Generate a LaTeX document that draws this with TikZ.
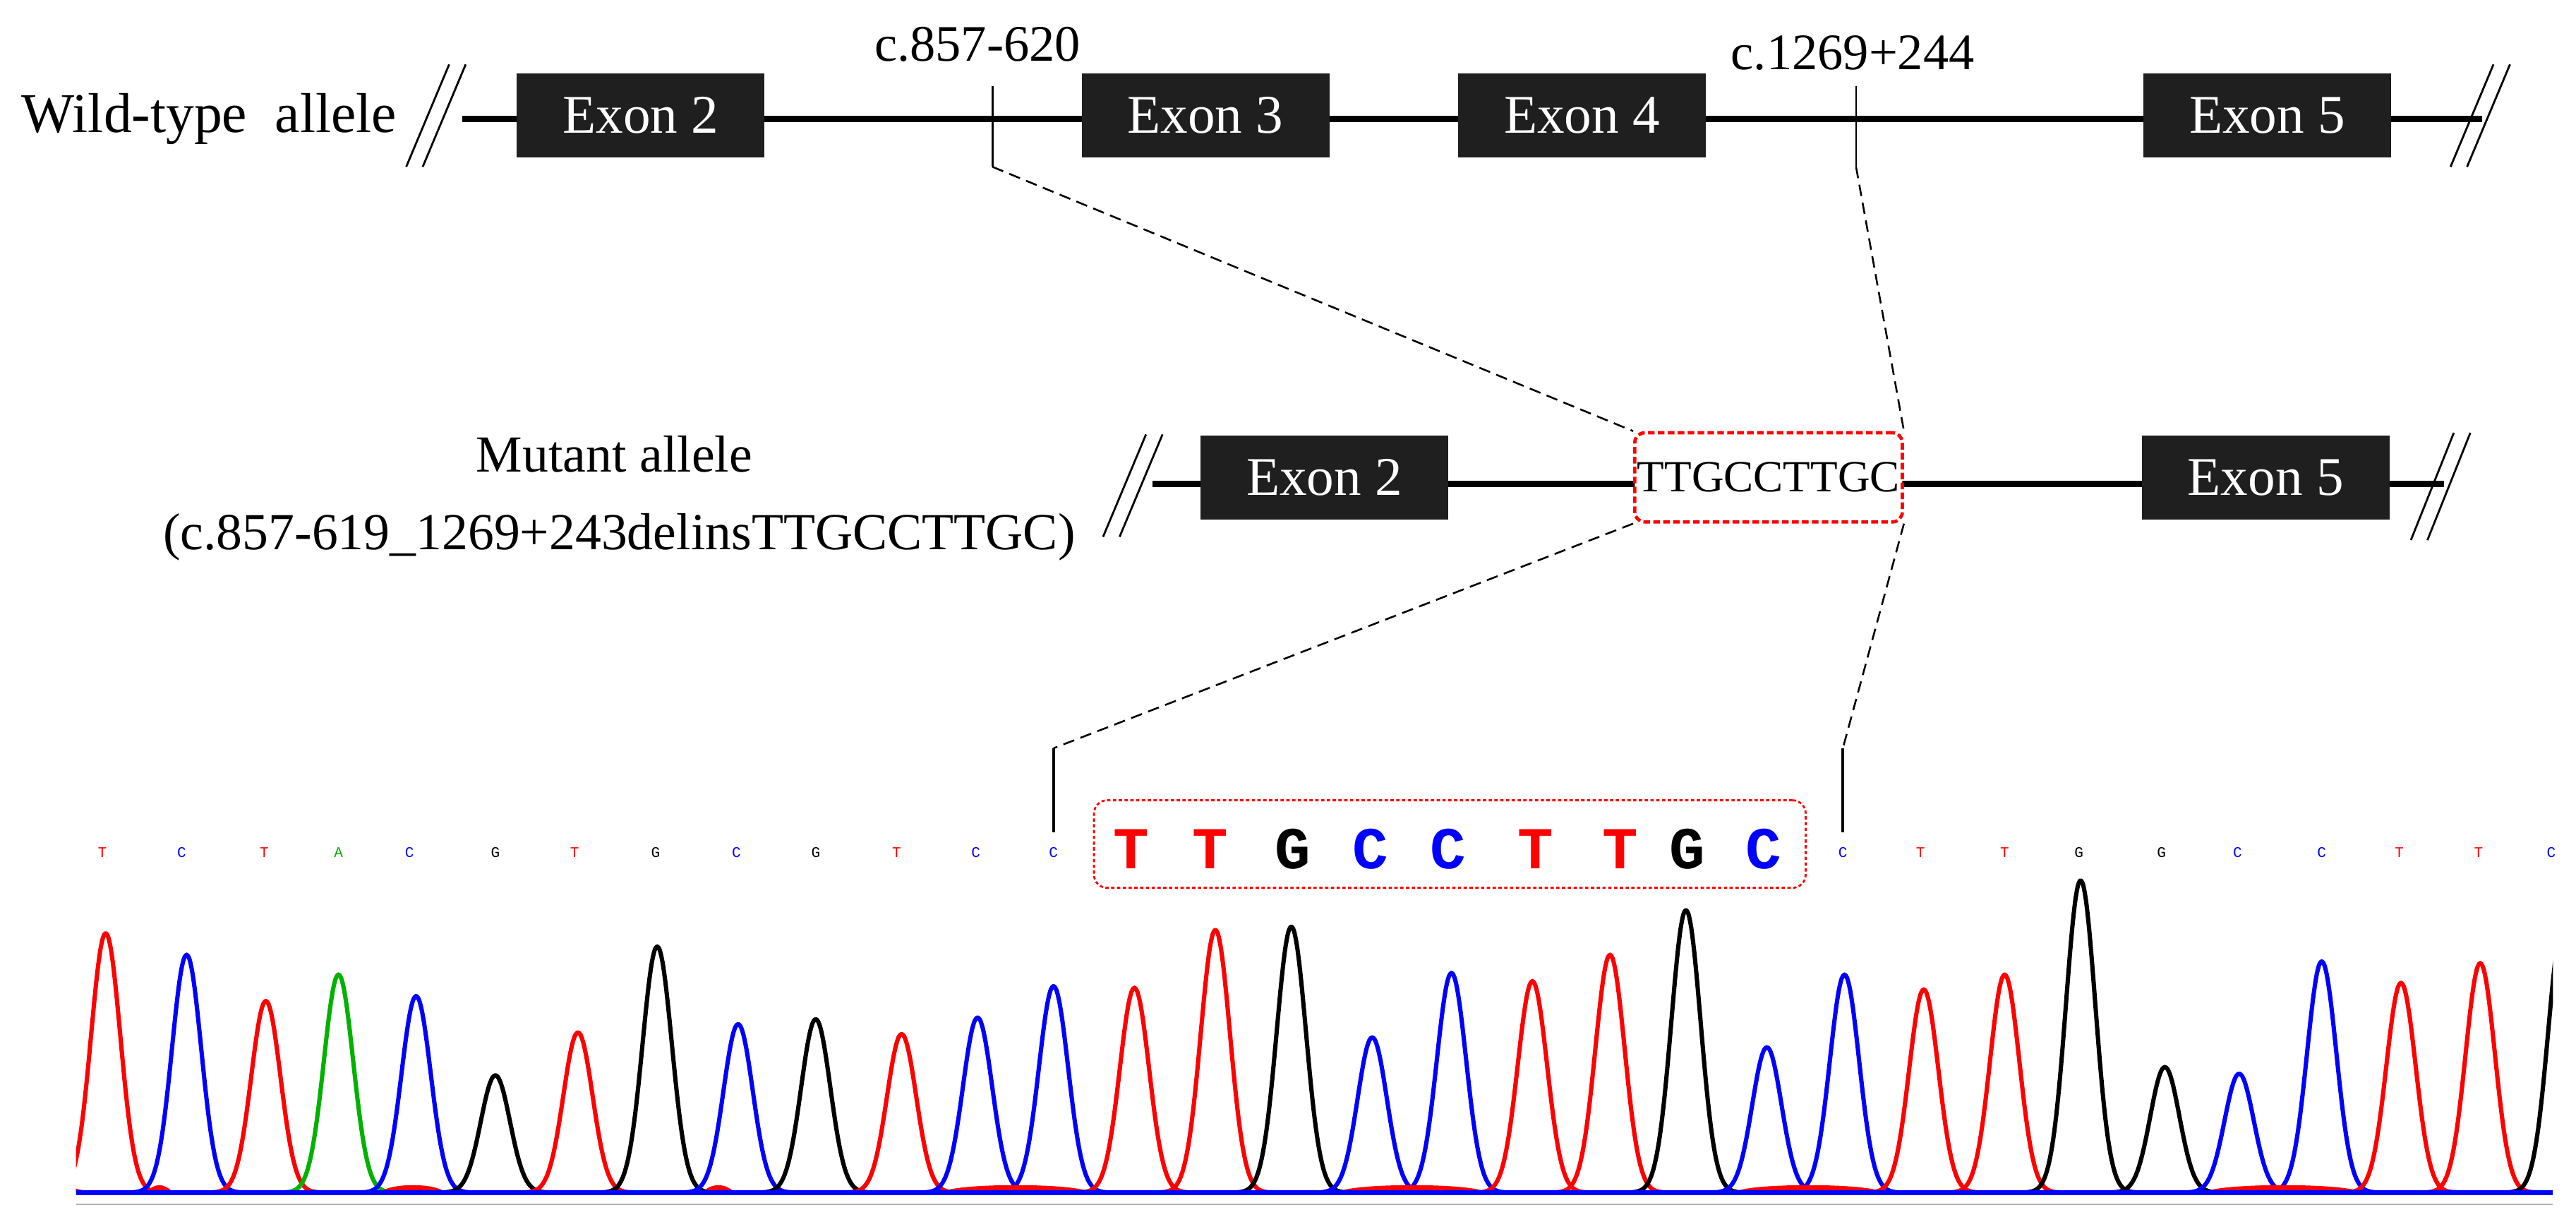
\documentclass[tikz,border=0pt]{standalone}
\usepackage{fontspec}
\setmainfont{Liberation Serif}
\newfontfamily\monof{Liberation Mono}
\begin{document}
\begin{tikzpicture}[x=1pt,y=-1pt,
  exon/.style={fill=black!88,draw=none,text=white,minimum width=150pt,minimum height=51pt,inner sep=0,font=\fontsize{33}{38}\selectfont},
  lbl/.style={font=\fontsize{31}{36}\selectfont,inner sep=0},
  gene/.style={line width=3.5pt},
  brk/.style={line width=1.2pt},
  lead/.style={dashed,line width=1.1pt,dash pattern=on 7pt off 4pt},
  sb/.style={font=\monof\fontsize{9}{10}\selectfont,inner sep=0},
  bb/.style={font=\monof\bfseries\fontsize{36}{40}\selectfont,inner sep=0},
  trace/.style={line width=2.6pt,line join=round}]
\useasboundingbox (0,0) rectangle (1560,739.4);
\fill[white] (0,0) rectangle (1560,739.4);
% wild type
\node[lbl,anchor=west,font=\fontsize{34}{40}\selectfont] (wtl) at (13,72) {Wild-type\ \ allele};
\coordinate (w0) at (280,72); \coordinate (w1) at (1503,72);
\draw[gene] (w0) -- (w1);
\draw[brk] (246,101)--(272,39) (256,101)--(282,39);
\draw[brk] (1484,101)--(1510,39) (1494,101)--(1520,39);
\node[exon] (e2) at (388,70) {Exon 2};
\node[exon] (e3) at (730,70) {Exon 3};
\node[exon] (e4) at (958,70) {Exon 4};
\node[exon] (e5) at (1373,70) {Exon 5};
\coordinate (t1a) at (601,52); \coordinate (t1b) at (601,101);
\coordinate (t2a) at (1124,52); \coordinate (t2b) at (1124,101);
\draw[line width=1.2pt] (t1a)--(t1b) (t2a)--(t2b);
\node[lbl] (c1) at (592,27) {c.857-620};
\node[lbl] (c2) at (1122,32) {c.1269+244};
% mutant
\node[lbl,font=\fontsize{31.5}{36}\selectfont] (ml1) at (372,275) {Mutant allele};
\node[lbl,font=\fontsize{31.5}{36}\selectfont] (ml2) at (375,325) {(c.857-619\_1269+243delinsTTGCCTTGC)};
\draw[gene] (698,293) -- (1480,293);
\draw[brk] (668,325)--(694,263) (678,325)--(704,263);
\draw[brk] (1460,327)--(1486,262) (1470,327)--(1496,262);
\node[exon] (m2) at (802,289) {Exon 2};
\node[exon] (m5) at (1372,289) {Exon 5};
\node[draw=red,dashed,line width=2pt,dash pattern=on 4pt off 2pt,fill=white,rounded corners=6pt,minimum width=162pt,minimum height=54pt,inner sep=0,font=\fontsize{27}{30}\selectfont] (ins) at (1071,289) {TTGCCTTGC};
\draw[lead] (t1b) -- (ins.north west);
\draw[lead] (t2b) -- (ins.north east);
\coordinate (v1a) at (638,453); \coordinate (v1b) at (638,504);
\coordinate (v2a) at (1116,453); \coordinate (v2b) at (1116,504);
\draw[lead] (ins.south west) -- (v1a);
\draw[lead] (ins.south east) -- (v2a);
\draw[line width=1.5pt] (v1a)--(v1b) (v2a)--(v2b);
% chromatogram letters
\colorlet{cT}{red}\colorlet{cC}{blue}\colorlet{cG}{black}\colorlet{cA}{green!70!black}
\foreach \x/\b [count=\i] in {62/T,110/C,160/T,205/A,248/C,300/G,348/T,397/G,446/C,494/G,543/T,591/C,638/C,1116/C,1163/T,1214/T,1259/G,1309/G,1355/C,1406/C,1453/T,1501/T,1545/C}
  \node[sb,text=c\b] (s\i) at (\x,516) {\b};
\node[draw=red,dashed,line width=1.2pt,dash pattern=on 2pt off 1.5pt,rounded corners=8pt,minimum width=431pt,minimum height=53pt] (bigbox) at (878,511) {};
\foreach \x/\b [count=\i] in {685/T,733/T,783/G,830/C,877/C,930/T,981/T,1022/G,1068/C}
  \node[bb,text=c\b] (b\i) at (\x,514) {\b};
% traces
\begin{scope}
\clip (46,520) rectangle (1546,730);
\foreach \c/\h/\col in {18/562/red,64/565/red,113/578/blue,161/606/red,205/590/cA,252/603/blue,300/651/black,350/625/red,398/573/black,447/620/blue,494/617/black,546/626/red,592/616/blue,638/597/blue,687/598/red,736/563/red,782/561/black,831/628/blue,879/589/blue,928/594/red,975/578/red,1021/551/black,1070/634/blue,1117/590/blue,1165/599/red,1214/590/red,1260/533/black,1311/646/black,1356/650/blue,1406/582/blue,1454/595/red,1502/583/red,1552/561/black}
  \draw[trace,\col] plot[domain=\c-36:\c+36,samples=45,smooth] (\x,{722-(722-\h)*exp(-((\x-\c)/12.5)^2)});
\end{scope}
\coordinate (bl0) at (46,722); \coordinate (bl1) at (1546,722);
\foreach \a/\b in {88/105,230/270,425/445,570/660,810/900,1050/1140,1335/1430}
  \fill[red] (\a,722) .. controls (\a+6,716) and (\b-6,716) .. (\b,722) -- cycle;
\draw[blue,line width=3pt] (bl0)--(bl1);
\draw[gray!60,line width=1pt] (46,729)--(1546,729);
\end{tikzpicture}
\end{document}
